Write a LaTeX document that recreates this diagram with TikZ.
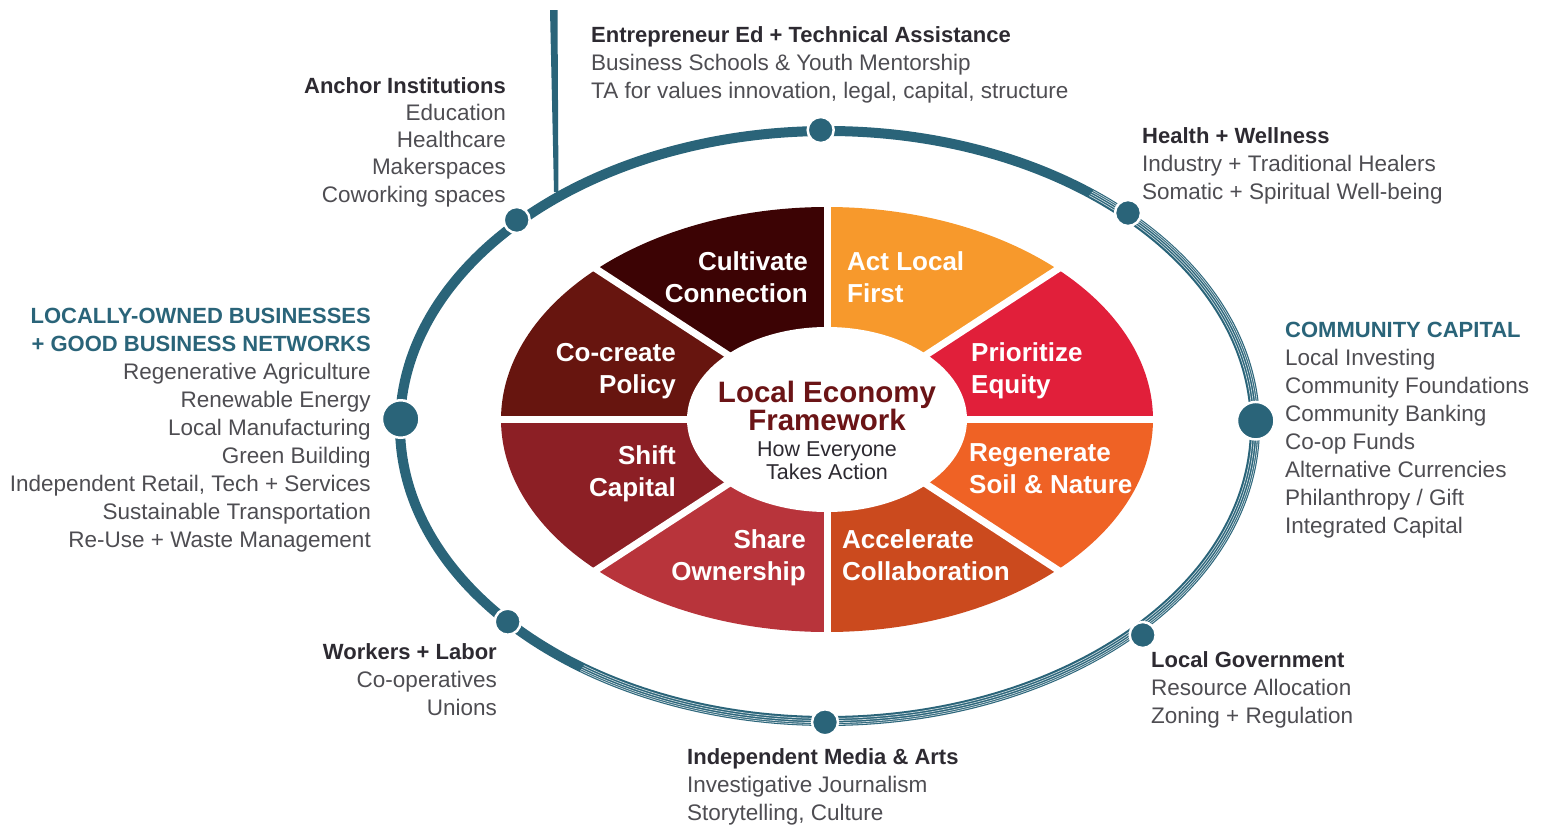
\documentclass[tikz,border=0pt]{standalone}
\usepackage{fontspec}
\setmainfont{Liberation Sans}
\usetikzlibrary{calc}
\definecolor{ringteal}{HTML}{2A6479}
\definecolor{headgray}{HTML}{2D2A31}
\definecolor{bodygray}{HTML}{4E4D52}
\definecolor{titlemaroon}{HTML}{6B1416}
\definecolor{cCult}{HTML}{3C0304}
\definecolor{cAct}{HTML}{F7992C}
\definecolor{cPrio}{HTML}{E11F3A}
\definecolor{cRegen}{HTML}{EF6225}
\definecolor{cAccel}{HTML}{CB4A1E}
\definecolor{cShare}{HTML}{B8343B}
\definecolor{cShift}{HTML}{8C1F25}
\definecolor{cCocr}{HTML}{67150F}
\tikzset{
  dot/.style={circle, fill=ringteal, draw=white, line width=2.5pt, inner sep=0pt, minimum size=26pt},
  bigdot/.style={dot, minimum size=37.5pt},
  txt/.style={inner sep=0pt, font=\fontsize{22.5}{28}\selectfont, text=bodygray},
  seglabel/.style={inner sep=0pt, text=white, font=\fontsize{26}{32}\selectfont\bfseries},
  gap/.style={white, line width=7pt},
  streak/.style={white, line width=0.7pt, opacity=0.75},
}
\newcommand{\hdline}[1]{{\bfseries\fontsize{22}{28}\selectfont\color{headgray}#1}}
\newcommand{\tlline}[1]{{\bfseries\fontsize{22}{28}\selectfont\color{ringteal}#1}}
\begin{document}
\begin{tikzpicture}[x=1pt,y=-1pt]
\useasboundingbox (0,0) rectangle (1553,827);
\coordinate (C) at (827,419.5);
% sectors
\foreach \s/\e/\c in {0/45/cPrio,45/90/cAct,90/135/cCult,135/180/cCocr,180/225/cShift,225/270/cShare,270/315/cAccel,315/360/cRegen}{
  \fill[\c] (C) -- ($(C)+(\s:326pt and 212.5pt)$) arc[start angle=\s,end angle=\e,x radius=326pt,y radius=212.5pt] -- cycle;
}
% gaps
\foreach \a in {0,45,90,135}{
  \draw[gap] ($(C)+(\a:350pt and 228.2pt)$) -- ($(C)+(\a+180:350pt and 228.2pt)$);
}
\fill[white] (C) ellipse[x radius=140pt, y radius=92.5pt];
% ring
\coordinate (R) at (827.5,426);
\draw[ringteal, line width=10pt] (R) ellipse[x radius=427.5pt, y radius=295pt];
% brush streaks on the right and lower part of the ring
\foreach \d in {-2.6,-0.4,1.8,3.6}{
  \draw[streak] ($(R)+(52:427.5pt+\d pt and 295pt+\d pt)$) arc[start angle=52,end angle=-125,x radius=427.5pt+\d pt,y radius=295pt+\d pt];
}
\fill[ringteal] (550,10) -- (557.5,10) -- (558.5,192) -- (554,192) -- cycle;
% dots
\node[dot] (dTop) at (820.7,130) {};
\node[dot] (dTL) at (516.7,220) {};
\node[bigdot] (dL) at (400.7,419) {};
\node[dot] (dBL) at (507.7,621.7) {};
\node[dot] (dB) at (825,722.3) {};
\node[dot] (dBR) at (1142.7,635) {};
\node[bigdot] (dR) at (1255.7,420.7) {};
\node[dot] (dTR) at (1128,213) {};
% segment labels (anchor = baseline of last line)
\node[seglabel, align=right, anchor=base east] (lCult) at (808,302) {Cultivate\\Connection};
\node[seglabel, align=left, anchor=base west] (lAct) at (847,302) {Act Local\\First};
\node[seglabel, align=right, anchor=base east] (lCocr) at (676,393) {Co-create\\Policy};
\node[seglabel, align=left, anchor=base west] (lPrio) at (971,393.5) {Prioritize\\Equity};
\node[seglabel, align=right, anchor=base east] (lShift) at (676,496.5) {Shift\\Capital};
\node[seglabel, align=left, anchor=base west] (lRegen) at (969,493.5) {Regenerate\\Soil \& Nature};
\node[seglabel, align=right, anchor=base east] (lShare) at (806,580) {Share\\Ownership};
\node[seglabel, align=left, anchor=base west] (lAccel) at (842,580) {Accelerate\\Collaboration};
% center
\node[inner sep=0pt, align=center, anchor=base, text=titlemaroon, font=\fontsize{29.5}{28}\selectfont\bfseries] (title) at (827,430.7) {Local Economy\\Framework};
\node[inner sep=0pt, align=center, anchor=base, text=headgray, font=\fontsize{21.5}{23.5}\selectfont] (sub) at (827,479.5) {How Everyone\\Takes Action};
% outer text blocks (anchor = baseline of last line)
\node[txt, align=left, anchor=base west] (tEnt) at (591,98) {\hdline{Entrepreneur Ed + Technical Assistance}\\Business Schools \& Youth Mentorship\\TA for values innovation, legal, capital, structure};
\node[txt, align=right, anchor=base east, font=\fontsize{22.5}{27.25}\selectfont] (tAnch) at (506,202) {{\bfseries\fontsize{22}{27.25}\selectfont\color{headgray}Anchor Institutions}\\Education\\Healthcare\\Makerspaces\\Coworking spaces};
\node[txt, align=left, anchor=base west] (tHealth) at (1142,199) {\hdline{Health + Wellness}\\Industry + Traditional Healers\\Somatic + Spiritual Well-being};
\node[txt, align=right, anchor=base east] (tLocal) at (371,547) {\tlline{LOCALLY-OWNED BUSINESSES}\\\tlline{+ GOOD BUSINESS NETWORKS}\\Regenerative Agriculture\\Renewable Energy\\Local Manufacturing\\Green Building\\Independent Retail, Tech + Services\\Sustainable Transportation\\Re-Use + Waste Management};
\node[txt, align=left, anchor=base west] (tComm) at (1285,533) {\tlline{COMMUNITY CAPITAL}\\Local Investing\\Community Foundations\\Community Banking\\Co-op Funds\\Alternative Currencies\\Philanthropy / Gift\\Integrated Capital};
\node[txt, align=right, anchor=base east] (tWork) at (497,715) {\hdline{Workers + Labor}\\Co-operatives\\Unions};
\node[txt, align=left, anchor=base west] (tGov) at (1151,723) {\hdline{Local Government}\\Resource Allocation\\Zoning + Regulation};
\node[txt, align=left, anchor=base west] (tMedia) at (687,820) {\hdline{Independent Media \& Arts}\\Investigative Journalism\\Storytelling, Culture};
\end{tikzpicture}
\end{document}
